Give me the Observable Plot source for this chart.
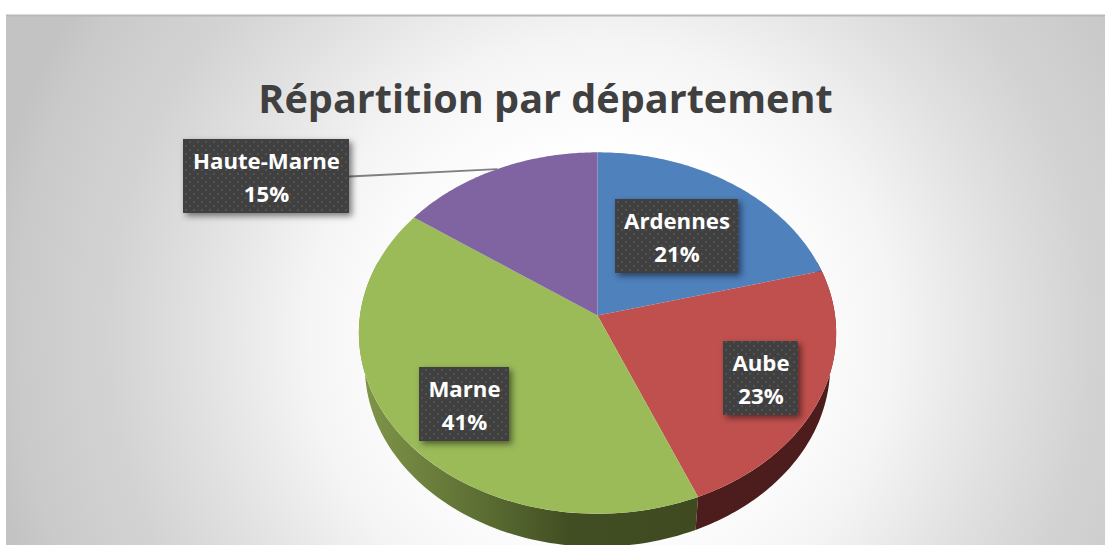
<!DOCTYPE html>
<html lang="fr">
<head>
<meta charset="utf-8">
<script src="https://cdn.jsdelivr.net/npm/d3@7"></script>
<script src="https://cdn.jsdelivr.net/npm/@observablehq/plot@0.6"></script>
<style>html,body{margin:0;padding:0;background:#fff}svg{display:block}</style>
</head>
<body>
<div id="chart"></div>
<script>
// Data
const departments = ["Ardennes", "Aube", "Marne", "Haute-Marne"];
const shares = [20.9, 22.8, 41.1, 15.2];
const sliceColors = ["#4f81bd", "#c0504d", "#9bbb59", "#8064a2"];
const chartTitle = "Répartition par département";

// Layout (pixels in a 1105×545 scale)
const W = 1105, H = 545;
const apex = [597, 315], rimA = 237.5, rimB = 179, persp = -0.097;
const depth = 33, lowerScale = 0.975;
const boxes = [[615, 738, 199, 273], [723, 798, 341, 415], [419, 509, 367, 441], [183, 349, 139, 213]];

const total = d3.sum(shares);
const cum = d3.cumsum(shares).map(v => v / total);
const starts = [0, ...cum.slice(0, -1)];
const rim = f => {
  const t = f * 2 * Math.PI, s = Math.sin(t), c = -Math.cos(t), q = 1 + persp * c;
  return [apex[0] + rimA * s / q, apex[1] + rimB * c / q];
};
const lower = ([x, y]) => [apex[0] + (x - apex[0]) * lowerScale, y + depth];
const steps = (a, b, n = 90) => d3.range(n + 1).map(i => a + (b - a) * i / n);

const slicePoints = departments.flatMap((name, i) => {
  const pts = [apex, ...steps(starts[i], cum[i]).map(rim)];
  return pts.map(([x, y]) => ({name, x, y}));
});
const wall = (a, b, key) => {
  const top = steps(a, b).map(rim);
  return [...top, ...top.slice().reverse().map(lower)].map(([x, y]) => ({key, x, y}));
};
const redWall = wall(0.2, cum[1], "r");
const greenWall = wall(cum[1], 0.8, "g");

const leaderEnd = rim((starts[3] + cum[3]) / 2);
const leader = [{x: boxes[3][1], y: (boxes[3][2] + boxes[3][3]) / 2}, {x: leaderEnd[0], y: leaderEnd[1]}];

const labels = departments.map((name, i) => ({
  x1: boxes[i][0], x2: boxes[i][1], y1: boxes[i][2], y2: boxes[i][3],
  cx: (boxes[i][0] + boxes[i][1]) / 2, cy: (boxes[i][2] + boxes[i][3]) / 2 - 1.5,
  text: `${name}\n${Math.round(shares[i] / total * 100)}%`
}));

const chart = Plot.plot({
  width: W, height: H, margin: 0,
  x: {domain: [0, W], range: [0, W], axis: null},
  y: {domain: [0, H], range: [0, H], axis: null},
  color: {domain: departments, range: sliceColors},
  style: {background: "#fff"},
  marks: [
    Plot.rect([{x1: 6, x2: W, y1: 15, y2: H}], {x1: "x1", x2: "x2", y1: "y1", y2: "y2", fill: "url(#panelBg)"}),
    Plot.ruleY([15], {x1: 6, x2: W, stroke: "#b8b8b8", strokeWidth: 2}),
    Plot.line(greenWall, {x: "x", y: "y", z: "key", fill: "url(#greenWall)", stroke: "none"}),
    Plot.line(redWall, {x: "x", y: "y", z: "key", fill: "#4c1d1c", stroke: "none"}),
    Plot.line(slicePoints, {x: "x", y: "y", z: "name", fill: "name", stroke: "none"}),
    Plot.line(leader, {x: "x", y: "y", stroke: "#7f7f7f", strokeWidth: 1.8}),
    Plot.rect(labels, {x1: "x1", x2: "x2", y1: "y1", y2: "y2", fill: "url(#dots)"}),
    Plot.text(labels, {x: "cx", y: "cy", text: "text", fill: "#fff", fontSize: 22.2, fontWeight: 700,
      fontFamily: "Open Sans", lineHeight: 1.49, textAnchor: "middle", lineAnchor: "middle"}),
    Plot.text([chartTitle], {x: 545, y: 100, text: d => d, fill: "#404040", fontSize: 39.6, fontWeight: 700,
      fontFamily: "Open Sans", textAnchor: "middle", lineAnchor: "middle"})
  ]
});

d3.select(chart).insert("defs", ":first-child").html(`
  <radialGradient id="panelBg" gradientUnits="userSpaceOnUse" cx="600" cy="335" r="620">
    <stop offset="0.29" stop-color="#ffffff"/>
    <stop offset="0.47" stop-color="#f5f5f5"/>
    <stop offset="0.66" stop-color="#e0e0e0"/>
    <stop offset="0.79" stop-color="#d3d3d3"/>
    <stop offset="0.94" stop-color="#cacaca"/>
    <stop offset="1" stop-color="#c3c3c3"/>
  </radialGradient>
  <linearGradient id="greenWall" gradientUnits="userSpaceOnUse" x1="365" y1="0" x2="697" y2="0">
    <stop offset="0" stop-color="#7f9448"/>
    <stop offset="0.35" stop-color="#5c6e33"/>
    <stop offset="0.62" stop-color="#414d22"/>
    <stop offset="1" stop-color="#3f4a20"/>
  </linearGradient>
  <pattern id="dots" patternUnits="userSpaceOnUse" width="8" height="8">
    <rect width="8" height="8" fill="#404040"/>
    <rect x="1" y="1" width="2" height="2" fill="#525252"/>
    <rect x="5" y="5" width="2" height="2" fill="#525252"/>
  </pattern>`);
d3.select(chart).selectAll('g[fill="url(#dots)"]')
  .style("filter", "drop-shadow(3px 3px 3px rgba(0,0,0,.5))");
document.getElementById("chart").append(chart);
</script>
</body>
</html>
